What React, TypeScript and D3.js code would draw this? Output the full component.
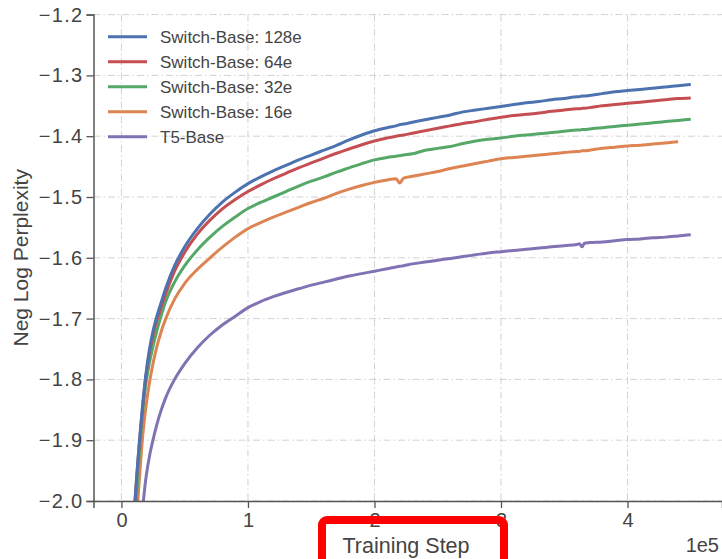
import { useEffect, useRef } from 'react';

import * as d3 from 'd3';

const width = 722;
const height = 559;
const [plotLeft, plotTop, plotRight, plotBottom] = [93.5, 14.6, 722, 501];

// training step, in units of 1e5
const steps = [
    0.09, 0.107, 0.12, 0.13, 0.145, 0.165, 0.19, 0.22, 0.25, 0.28, 0.31, 0.35, 0.42, 0.5, 0.6, 0.7, 0.8, 0.9,
    1.0, 1.1, 1.2, 1.3, 1.4, 1.5, 1.6, 1.7, 1.8, 1.9, 2.0,
    2.1, 2.17, 2.2, 2.23, 2.3, 2.4, 2.5, 2.6, 2.7, 2.8, 2.9, 3.0,
    3.1, 3.2, 3.3, 3.4, 3.5, 3.6, 3.62, 3.64, 3.66, 3.7, 3.8, 3.9, 4.0,
    4.1, 4.2, 4.3, 4.4, 4.5
];

const switch128e = [
    -2.06, -2.0, -1.961, -1.933, -1.894, -1.847, -1.797, -1.752, -1.72, -1.696, -1.676, -1.65, -1.613, -1.582, -1.552, -1.528, -1.508, -1.492,
    -1.478, -1.467, -1.457, -1.448, -1.439, -1.431, -1.423, -1.415, -1.406, -1.398, -1.391,
    -1.386, -1.383, -1.381, -1.38, -1.377, -1.373, -1.369, -1.365, -1.36, -1.357, -1.354, -1.351,
    -1.348, -1.345, -1.343, -1.34, -1.338, -1.335, -1.335, -1.334, -1.334, -1.333, -1.33, -1.327, -1.325,
    -1.323, -1.321, -1.319, -1.317, -1.315
];

const switch64e = [
    -2.06, -2.0, -1.962, -1.935, -1.897, -1.851, -1.8, -1.757, -1.727, -1.703, -1.684, -1.659, -1.622, -1.591, -1.561, -1.538, -1.519, -1.504,
    -1.491, -1.48, -1.47, -1.461, -1.452, -1.444, -1.436, -1.428, -1.421, -1.414, -1.408,
    -1.403, -1.4, -1.399, -1.398, -1.395, -1.391, -1.387, -1.383, -1.379, -1.376, -1.372, -1.369,
    -1.366, -1.364, -1.362, -1.359, -1.357, -1.355, -1.355, -1.354, -1.354, -1.353, -1.35, -1.348, -1.346,
    -1.344, -1.342, -1.34, -1.338, -1.337
];

const switch32e = [
    -2.1, -2.04, -1.99, -1.955, -1.91, -1.86, -1.812, -1.774, -1.745, -1.72, -1.698, -1.672, -1.64, -1.613, -1.587, -1.566, -1.548, -1.533,
    -1.519, -1.509, -1.5, -1.491, -1.482, -1.474, -1.467, -1.459, -1.452, -1.445, -1.439,
    -1.435, -1.433, -1.432, -1.431, -1.429, -1.423, -1.42, -1.417, -1.412, -1.408, -1.405, -1.403,
    -1.4, -1.398, -1.396, -1.394, -1.392, -1.39, -1.39, -1.389, -1.389, -1.388, -1.386, -1.384, -1.382,
    -1.38, -1.378, -1.376, -1.374, -1.372
];

const switch16e = [
    -2.2, -2.12, -2.05, -2.0, -1.955, -1.9, -1.851, -1.807, -1.773, -1.746, -1.724, -1.7, -1.668, -1.642, -1.619, -1.6, -1.582, -1.566,
    -1.552, -1.542, -1.533, -1.525, -1.517, -1.509, -1.502, -1.494, -1.487, -1.481, -1.476,
    -1.472, -1.47, -1.477, -1.469, -1.466, -1.462, -1.458, -1.453, -1.449, -1.445, -1.441, -1.437,
    -1.435, -1.433, -1.431, -1.429, -1.427, -1.425, -1.425, -1.424, -1.424, -1.423, -1.42, -1.418, -1.416,
    -1.415, -1.413, -1.411, -1.409, null
];

const t5Base = [
    -2.4, -2.3, -2.22, -2.16, -2.08, -2.02, -1.968, -1.928, -1.899, -1.874, -1.853, -1.83, -1.8, -1.774, -1.748, -1.727, -1.71, -1.696,
    -1.682, -1.672, -1.664, -1.657, -1.651, -1.645, -1.64, -1.635, -1.63, -1.626, -1.622,
    -1.618, -1.615, -1.614, -1.613, -1.61, -1.607, -1.604, -1.601, -1.598, -1.595, -1.592, -1.59,
    -1.588, -1.586, -1.584, -1.582, -1.58, -1.578, -1.577, -1.582, -1.576, -1.575, -1.574, -1.572, -1.57,
    -1.569, -1.567, -1.566, -1.564, -1.562
];

const seriesNames = ['Switch-Base: 128e', 'Switch-Base: 64e', 'Switch-Base: 32e', 'Switch-Base: 16e', 'T5-Base'];
const seriesValues = [switch128e, switch64e, switch32e, switch16e, t5Base];
const seriesColors = ['#4c72b0', '#c44e52', '#55a868', '#dd8452', '#8172b3'];

const xTicks = [0, 1, 2, 3, 4];
const yTicks = [-2.0, -1.9, -1.8, -1.7, -1.6, -1.5, -1.4, -1.3, -1.2];

const font = '"Liberation Sans", Arial, sans-serif';
const textColor = '#444444';

export default function App() {
    const ref = useRef<SVGSVGElement>(null);

    useEffect(() => {
        const svg = d3.select(ref.current);
        svg.selectAll('*').remove();

        const x = d3.scaleLinear().domain([-0.221, 4.747]).range([plotLeft, plotRight]);
        const y = d3.scaleLinear().domain([-2.0, -1.2]).range([plotBottom, plotTop]);

        svg.append('rect').attr('width', width).attr('height', height).attr('fill', '#ffffff');

        // dash-dot grid
        const grid = svg.append('g').attr('stroke', '#d2d2d2').attr('stroke-width', 1).attr('stroke-dasharray', '7,3,1.5,3');
        grid.selectAll('line.gx')
            .data(xTicks)
            .enter()
            .append('line')
            .attr('x1', (d) => x(d))
            .attr('x2', (d) => x(d))
            .attr('y1', plotTop)
            .attr('y2', plotBottom);
        grid.selectAll('line.gy')
            .data(yTicks)
            .enter()
            .append('line')
            .attr('x1', plotLeft)
            .attr('x2', plotRight)
            .attr('y1', (d) => y(d))
            .attr('y2', (d) => y(d));

        // lines, clipped to plot area
        svg.append('clipPath')
            .attr('id', 'plot-clip')
            .append('rect')
            .attr('x', plotLeft)
            .attr('y', plotTop - 3)
            .attr('width', plotRight - plotLeft)
            .attr('height', plotBottom - plotTop + 3);

        const line = d3
            .line<number | null>()
            .defined((v) => v != null)
            .x((_, i) => x(steps[i]))
            .y((v) => y(v as number))
            .curve(d3.curveMonotoneX);

        const lines = svg.append('g').attr('clip-path', 'url(#plot-clip)');
        seriesValues
            .slice()
            .reverse()
            .forEach((vals, i) => {
                lines.append('path')
                    .attr('d', line(vals))
                    .attr('fill', 'none')
                    .attr('stroke', seriesColors[seriesValues.length - 1 - i])
                    .attr('stroke-width', 3)
                    .attr('stroke-linejoin', 'round');
            });

        // axes
        const yAxis = d3.axisLeft(y).tickValues(yTicks).tickFormat(d3.format('.1f')).tickSize(7).tickPadding(3);
        svg.append('g')
            .attr('transform', `translate(${plotLeft},0)`)
            .call(yAxis)
            .call((g) => g.select('.domain').attr('stroke', '#555').attr('stroke-width', 1.5))
            .call((g) => g.selectAll('.tick line').attr('stroke', '#555').attr('stroke-width', 1.3))
            .call((g) =>
                g.selectAll('.tick text').attr('fill', textColor).attr('font-size', 20).attr('font-family', font).attr('letter-spacing', 1.3)
            );

        const xAxis = d3.axisBottom(x).tickValues(xTicks).tickFormat(d3.format('d')).tickSize(7).tickPadding(5);
        svg.append('g')
            .attr('transform', `translate(0,${plotBottom})`)
            .call(xAxis)
            .call((g) => g.select('.domain').attr('stroke', '#555').attr('stroke-width', 1.5))
            .call((g) => g.selectAll('.tick line').attr('stroke', '#555').attr('stroke-width', 1.3))
            .call((g) => g.selectAll('.tick text').attr('fill', textColor).attr('font-size', 20).attr('font-family', font));

        // axis labels
        svg.append('text')
            .attr('transform', `translate(28,${(plotTop + plotBottom) / 2}) rotate(-90)`)
            .attr('text-anchor', 'middle')
            .attr('font-size', 21)
            .attr('font-family', font)
            .attr('fill', textColor)
            .text('Neg Log Perplexity');

        svg.append('text')
            .attr('x', 406)
            .attr('y', 553)
            .attr('text-anchor', 'middle')
            .attr('font-size', 21.5)
            .attr('font-family', font)
            .attr('fill', textColor)
            .text('Training Step');

        svg.append('text')
            .attr('x', 719)
            .attr('y', 552)
            .attr('text-anchor', 'end')
            .attr('font-size', 20)
            .attr('font-family', font)
            .attr('fill', textColor)
            .text('1e5');

        // legend
        const legend = svg.append('g');
        seriesNames.forEach((name, i) => {
            const ly = 36.7 + i * 25;
            legend.append('line')
                .attr('x1', 108)
                .attr('x2', 147)
                .attr('y1', ly)
                .attr('y2', ly)
                .attr('stroke', seriesColors[i])
                .attr('stroke-width', 3);
            legend.append('text')
                .attr('x', 160)
                .attr('y', ly)
                .attr('dy', '0.35em')
                .attr('font-size', 17)
                .attr('font-family', font)
                .attr('fill', textColor)
                .text(name);
        });

        // red highlight box around the x label
        svg.append('rect')
            .attr('x', 322)
            .attr('y', 520)
            .attr('width', 182)
            .attr('height', 70)
            .attr('rx', 5)
            .attr('fill', 'none')
            .attr('stroke', '#ff0000')
            .attr('stroke-width', 8);
    }, []);

    return <svg ref={ref} width={width} height={height} style={{ position: 'absolute', left: 0, top: 0 }} />;
}
